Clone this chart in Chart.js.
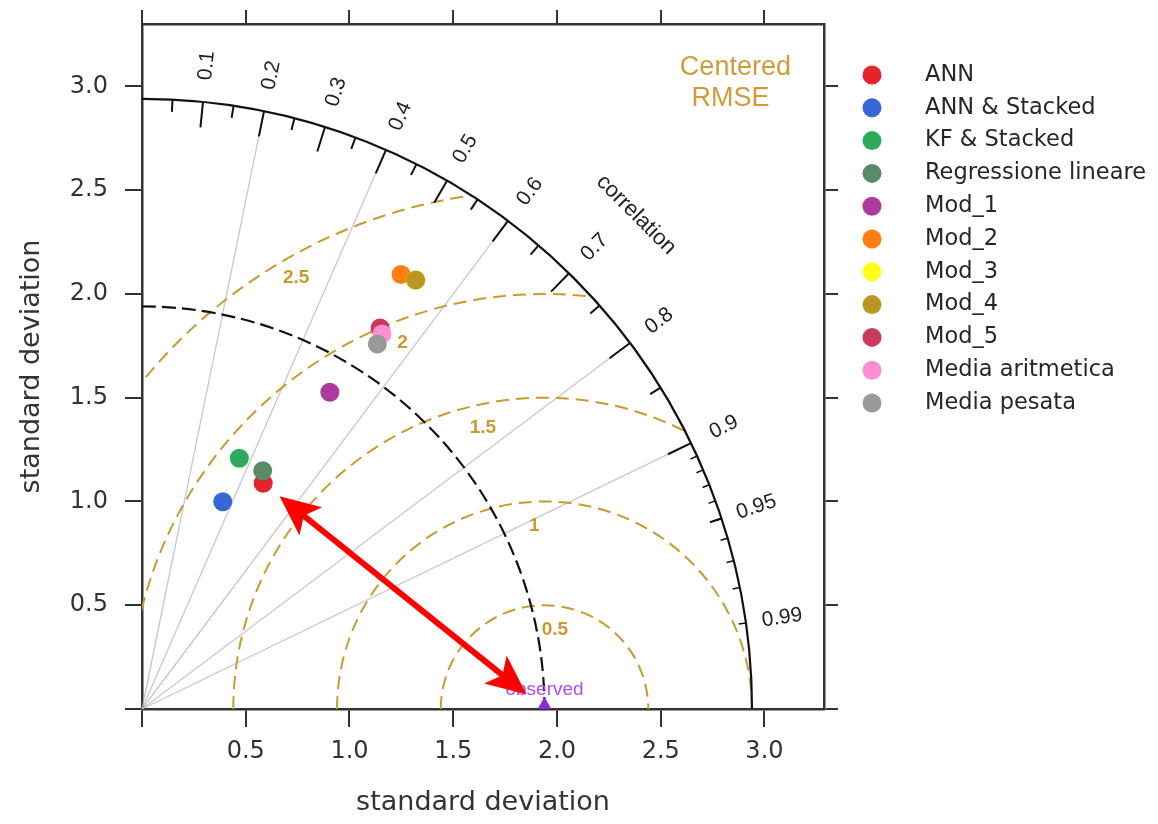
<!DOCTYPE html>
<html>
<head>
<meta charset="utf-8">
<title>Taylor diagram</title>
<script src="https://cdn.jsdelivr.net/npm/chart.js@4.4.0/dist/chart.umd.min.js"></script>
<style>
  html, body { margin: 0; padding: 0; background: #ffffff; }
  canvas { display: block; }
</style>
</head>
<body>
<canvas id="taylor" width="1158" height="824"></canvas>
<script>
// ---- data -----------------------------------------------------------------
const modelNames = ['ANN', 'ANN & Stacked', 'KF & Stacked', 'Regressione lineare', 'Mod_1', 'Mod_2',
                    'Mod_3', 'Mod_4', 'Mod_5', 'Media aritmetica', 'Media pesata'];
const modelColors = ['#e3242b', '#3767d6', '#2eaa5c', '#5b8a69', '#ad3b9f', '#ff7f12',
                     '#ffff1a', '#b8961f', '#c73a5c', '#ff8fd0', '#9a9a9a'];
// standard deviation and correlation of each model against the observations
const modelSD  = [1.235, 1.072, 1.296, 1.287, 1.775, 2.438, 2.452, 2.452, 2.165, 2.146, 2.093];
const modelCor = [0.473, 0.363, 0.362, 0.452, 0.510, 0.512, 0.538, 0.538, 0.530, 0.539, 0.542];
const observedSD = 1.94;
const maxSD = 2.94;

const rmseLevels = [0.5, 1, 1.5, 2, 2.5];
const corLines = [0.2, 0.4, 0.6, 0.8, 0.9];
const corLabels = [0.1, 0.2, 0.3, 0.4, 0.5, 0.6, 0.7, 0.8, 0.9, 0.95, 0.99];
const corBigTicks = [0.1, 0.2, 0.3, 0.4, 0.5, 0.6, 0.7, 0.8, 0.9];
const corMedTicks = [0.05, 0.15, 0.25, 0.35, 0.45, 0.55, 0.65, 0.75, 0.85, 0.95];
const corSmallTicks = [0.91, 0.92, 0.93, 0.94, 0.95, 0.96, 0.97, 0.98, 0.99];
const axisTicks = [0, 0.5, 1, 1.5, 2, 2.5, 3];

// ---- styling ----------------------------------------------------------------
const SANS = "'DejaVu Sans', sans-serif";
const ARIAL = "'Liberation Sans', Arial, sans-serif";
const INK = '#333333';
const RMSE_COLOR = '#c99a2e';
const X_MAX = 3.287, Y_MAX = 3.301;

// polar (sd, correlation) -> cartesian point
const toXY = (sd, r) => ({ x: sd * r, y: sd * Math.sqrt(1 - r * r) });

const datasets = modelNames.map((name, i) => ({
  label: name,
  data: [toXY(modelSD[i], modelCor[i])],
  backgroundColor: modelColors[i],
  borderWidth: 0,
  pointStyle: 'circle',
  pointRadius: 9.5,
  pointHoverRadius: 9.5,
  order: -i
}));
datasets.push({
  label: 'observed',
  data: [{ x: observedSD, y: 0 }],
  backgroundColor: '#8a2be2',
  borderWidth: 0,
  pointStyle: 'triangle',
  pointRadius: 12,
  clip: 0,
  order: 5
});

const setTicks = scale => { scale.ticks = axisTicks.map(v => ({ value: v })); };
const fixBox = (prop, size) => scale => {
  scale[prop] = size;
  scale.paddingTop = scale.paddingBottom = scale.paddingLeft = scale.paddingRight = 0;
};
const tickGrid = len => ({ display: true, drawOnChartArea: false, drawTicks: true,
                           tickLength: len, color: INK, lineWidth: 2 });
const axisBorder = { display: true, color: INK, width: 2.5 };

// ---- diagram furniture drawn under the points ----------------------------------
const taylorGrid = {
  id: 'taylorGrid',
  beforeDatasetsDraw(chart) {
    const { ctx, scales: { x, y } } = chart;
    const ox = x.getPixelForValue(0), oy = y.getPixelForValue(0);
    const kx = x.getPixelForValue(1) - ox, ky = oy - y.getPixelForValue(1);
    const P = (vx, vy) => [x.getPixelForValue(vx), y.getPixelForValue(vy)];
    ctx.save();

    // correlation rays
    ctx.strokeStyle = 'rgba(175,175,185,0.7)';
    ctx.lineWidth = 1.3;
    corLines.forEach(c => {
      const [ex, ey] = P(maxSD * c, maxSD * Math.sqrt(1 - c * c));
      ctx.beginPath(); ctx.moveTo(ox, oy); ctx.lineTo(ex, ey); ctx.stroke();
    });

    // centred RMSE arcs around the observed point, kept inside the quarter disc
    ctx.save();
    ctx.beginPath();
    ctx.moveTo(ox, oy);
    ctx.ellipse(ox, oy, maxSD * kx, maxSD * ky, 0, -Math.PI / 2, 0);
    ctx.closePath();
    ctx.clip();
    const cx = x.getPixelForValue(observedSD);
    ctx.strokeStyle = RMSE_COLOR;
    ctx.lineWidth = 2;
    ctx.setLineDash([13, 7]);
    rmseLevels.forEach(g => {
      ctx.beginPath();
      ctx.ellipse(cx, oy, g * kx, g * ky, 0, Math.PI, 2 * Math.PI);
      ctx.stroke();
    });
    ctx.restore();

    // RMSE labels
    ctx.fillStyle = RMSE_COLOR;
    ctx.font = `bold 19px ${ARIAL}`;
    ctx.textAlign = 'center';
    ctx.textBaseline = 'middle';
    rmseLevels.forEach((g, i) => {
      const a = (49 + 5 * i) * 0.03;
      const [lx, ly] = P(observedSD + g * Math.cos(a), g * Math.sin(a));
      ctx.fillText(String(g), lx, ly + 24);
    });

    // observed standard deviation arc
    ctx.strokeStyle = '#111111';
    ctx.lineWidth = 2.2;
    ctx.setLineDash([14, 6]);
    ctx.beginPath();
    ctx.ellipse(ox, oy, observedSD * kx, observedSD * ky, 0, -Math.PI / 2, 0);
    ctx.stroke();

    // outer arc
    ctx.setLineDash([]);
    ctx.beginPath();
    ctx.ellipse(ox, oy, maxSD * kx, maxSD * ky, 0, -Math.PI / 2, 0);
    ctx.stroke();

    // correlation ticks on the outer arc
    const tick = (c, f) => {
      const s = Math.sqrt(1 - c * c);
      const [ax, ay] = P(maxSD * c, maxSD * s);
      const [bx, by] = P(maxSD * f * c, maxSD * f * s);
      ctx.beginPath(); ctx.moveTo(ax, ay); ctx.lineTo(bx, by); ctx.stroke();
    };
    ctx.lineWidth = 2;
    corBigTicks.forEach(c => tick(c, 0.958));
    corMedTicks.forEach(c => tick(c, 0.98));
    ctx.lineWidth = 1.5;
    corSmallTicks.forEach(c => tick(c, 0.988));

    // correlation labels along the radial direction
    ctx.fillStyle = '#222222';
    ctx.font = `21px ${ARIAL}`;
    corLabels.forEach(c => {
      const th = Math.acos(c);
      const [lx, ly] = P(1.06 * maxSD * c, 1.06 * maxSD * Math.sin(th));
      ctx.save();
      ctx.translate(lx, ly);
      ctx.rotate(-th);
      ctx.fillText(String(c), 0, 0);
      ctx.restore();
    });
    const [tx, ty] = P(0.81 * maxSD, 0.81 * maxSD);
    ctx.save();
    ctx.translate(tx, ty);
    ctx.rotate(Math.PI / 4);
    ctx.font = `22px ${ARIAL}`;
    ctx.fillText('correlation', 0, 0);
    ctx.restore();

    // RMSE caption
    ctx.fillStyle = '#d09b3a';
    ctx.font = `27px ${ARIAL}`;
    const [cxp, cyp] = P(2.86, 3.09);
    ctx.fillText('Centered', cxp, cyp);
    ctx.fillText('RMSE', cxp - 5, cyp + 31);

    ctx.restore();
  },

  afterDatasetsDraw(chart) {
    const { ctx, scales: { x, y } } = chart;
    ctx.save();
    // observed label
    const obx = x.getPixelForValue(observedSD), oby = y.getPixelForValue(0);
    ctx.fillStyle = '#a650f5';
    ctx.font = `19px ${ARIAL}`;
    ctx.textAlign = 'center';
    ctx.textBaseline = 'middle';
    ctx.fillText('observed', obx, oby - 19);

    // double arrow linking the ANN point to the observed point
    const ann = toXY(modelSD[0], modelCor[0]);
    const ax = x.getPixelForValue(ann.x), ay = y.getPixelForValue(ann.y);
    const dx = obx - ax, dy = oby - ay, len = Math.hypot(dx, dy);
    const ux = dx / len, uy = dy / len;
    const sx = ax + ux * 21, sy = ay + uy * 21;
    const ex = obx - ux * 23, ey = oby - uy * 23;
    const head = (tx, ty, dirx, diry) => {
      const L = 40, W = 18, N = 9;
      const bx = tx - dirx * L, by = ty - diry * L;
      ctx.beginPath();
      ctx.moveTo(tx, ty);
      ctx.lineTo(bx - diry * W, by + dirx * W);
      ctx.lineTo(tx - dirx * (L - N), ty - diry * (L - N));
      ctx.lineTo(bx + diry * W, by - dirx * W);
      ctx.closePath();
      ctx.fill();
    };
    ctx.strokeStyle = '#ff0000';
    ctx.fillStyle = '#ff0000';
    ctx.lineWidth = 6;
    ctx.beginPath();
    ctx.moveTo(sx + ux * 25, sy + uy * 25);
    ctx.lineTo(ex - ux * 25, ey - uy * 25);
    ctx.stroke();
    head(ex, ey, ux, uy);
    head(sx, sy, -ux, -uy);
    ctx.restore();
  },

  afterDraw(chart) {
    // legend
    const { ctx } = chart;
    ctx.save();
    ctx.textAlign = 'left';
    ctx.textBaseline = 'middle';
    ctx.font = `22.5px ${SANS}`;
    modelNames.forEach((name, i) => {
      const yy = 75 + i * 32.8;
      ctx.fillStyle = modelColors[i];
      ctx.beginPath();
      ctx.arc(872, yy, 9.5, 0, 2 * Math.PI);
      ctx.fill();
      ctx.fillStyle = '#262626';
      ctx.fillText(name, 925, yy);
    });
    ctx.restore();
  }
};

new Chart(document.getElementById('taylor'), {
  type: 'scatter',
  data: { datasets },
  options: {
    responsive: false,
    animation: false,
    devicePixelRatio: 1,
    layout: { padding: 0 },
    plugins: { legend: { display: false }, tooltip: { enabled: false } },
    scales: {
      x: {
        type: 'linear', position: 'bottom', min: 0, max: X_MAX,
        afterBuildTicks: setTicks,
        afterFit: fixBox('height', 115),
        grid: tickGrid(18), border: axisBorder,
        ticks: { autoSkip: false, maxRotation: 0, padding: 10, color: INK,
                 font: { family: SANS, size: 24 },
                 callback: v => (v === 0 ? '' : v.toFixed(1)) },
        title: { display: true, text: 'standard deviation', color: INK,
                 font: { family: SANS, size: 27 }, padding: { top: 0, bottom: 5 } }
      },
      y: {
        type: 'linear', position: 'left', min: 0, max: Y_MAX,
        afterBuildTicks: setTicks,
        afterFit: fixBox('width', 142),
        grid: tickGrid(17), border: axisBorder,
        ticks: { autoSkip: false, padding: 17, color: INK,
                 font: { family: SANS, size: 24 },
                 callback: v => (v === 0 ? '' : v.toFixed(1)) },
        title: { display: true, text: 'standard deviation', color: INK,
                 font: { family: SANS, size: 27 }, padding: { top: 16, bottom: 0 } }
      },
      x2: {
        type: 'linear', position: 'top', min: 0, max: X_MAX,
        afterBuildTicks: setTicks,
        afterFit: fixBox('height', 24),
        grid: tickGrid(14), border: axisBorder,
        ticks: { autoSkip: false, padding: 0, callback: () => '' }
      },
      y2: {
        type: 'linear', position: 'right', min: 0, max: Y_MAX,
        afterBuildTicks: setTicks,
        afterFit: fixBox('width', 334),
        grid: tickGrid(14), border: axisBorder,
        ticks: { autoSkip: false, padding: 0, callback: () => '' }
      }
    }
  },
  plugins: [taylorGrid]
});
</script>
</body>
</html>
